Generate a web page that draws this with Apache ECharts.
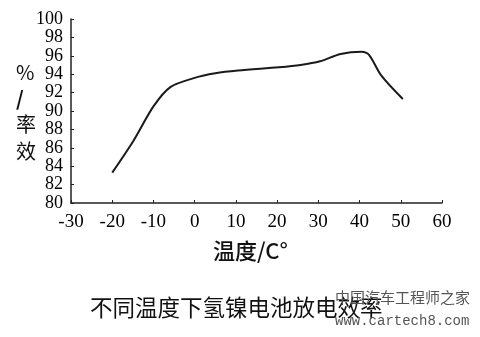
<!DOCTYPE html>
<html><head><meta charset="utf-8">
<script src="https://cdn.jsdelivr.net/npm/echarts@6/dist/echarts.min.js"></script>
<style>html,body{margin:0;padding:0;background:#fff}#c{width:480px;height:337px}</style>
</head><body><div id="c"></div>
<script>
const temps = [-20, -14.8, -10, -5.9, 0, 5, 10.5, 20.4, 25.7, 30.4, 35.4, 40.5, 42.3, 45.2, 50.5];
const efficiency = [83.3, 86.8, 90.5, 92.6, 93.6, 94.1, 94.4, 94.75, 95.0, 95.4, 96.2, 96.45, 96.1, 93.9, 91.3];
const xTicks = [-30, -20, -10, 0, 10, 20, 30, 40, 50, 60];
const yTicks = [80, 82, 84, 86, 88, 90, 92, 94, 96, 98, 100];
const title = '不同温度下氢镍电池放电效率';
const xName = '温度/C°';
const yNameChars = ['%', '/', '率', '效'];
const watermark = ['中国汽车工程师之家', 'www.cartech8.com'];

const chart = echarts.init(document.getElementById('c'), null, {renderer: 'canvas'});
const serif = '"Liberation Serif","DejaVu Serif",serif';
const sans = '"Noto Sans CJK SC","Noto Sans",sans-serif';
const graphics = yNameChars.map((ch, i) => ({
  type: 'text', left: 16, top: [62, 88, 114, 141][i],
  style: {text: ch, font: (i === 1 ? 'bold 20px ' : '20px ') + sans, fill: '#111', align: 'center'}
}));
graphics.push({type: 'text', left: 213, top: 240, style: {text: xName, font: '500 22px ' + sans, fill: '#111'}});
graphics.push({type: 'text', left: 90, top: 296, style: {text: title, font: '22.5px ' + sans, fill: '#111'}});
graphics.push({type: 'text', left: 335, top: 290, style: {text: watermark[0], font: '15px ' + sans, fill: '#555'}});
graphics.push({type: 'text', left: 335, top: 314, style: {text: watermark[1], font: '14px "Liberation Mono","DejaVu Sans Mono",monospace', fill: '#555'}});

chart.setOption({
  animation: false,
  backgroundColor: '#fff',
  grid: {left: 71, right: 38, top: 19, bottom: 134, containLabel: false},
  xAxis: {
    type: 'value', min: xTicks[0], max: xTicks[xTicks.length - 1], interval: 10,
    axisLine: {show: true, onZero: false, lineStyle: {color: '#222', width: 1.5}},
    axisTick: {show: true, inside: true, length: 3, lineStyle: {color: '#222'}},
    splitLine: {show: false},
    axisLabel: {fontFamily: serif, fontSize: 19, color: '#000', margin: 10, showMinLabel: true, showMaxLabel: true}
  },
  yAxis: {
    type: 'value', min: yTicks[0], max: yTicks[yTicks.length - 1], interval: 2,
    axisLine: {show: true, onZero: false, lineStyle: {color: '#222', width: 1.5}},
    axisTick: {show: true, inside: true, length: 3, lineStyle: {color: '#222'}},
    splitLine: {show: false},
    axisLabel: {fontFamily: serif, fontSize: 18, lineHeight: 14, color: '#000', margin: 8, showMinLabel: true, showMaxLabel: true, hideOverlap: false}
  },
  graphic: graphics,
  series: [{
    type: 'line', smooth: 0.3,
    data: temps.map((t, i) => [t, efficiency[i]]),
    showSymbol: false,
    lineStyle: {color: '#1a1a1a', width: 2}
  }]
});
</script></body></html>
